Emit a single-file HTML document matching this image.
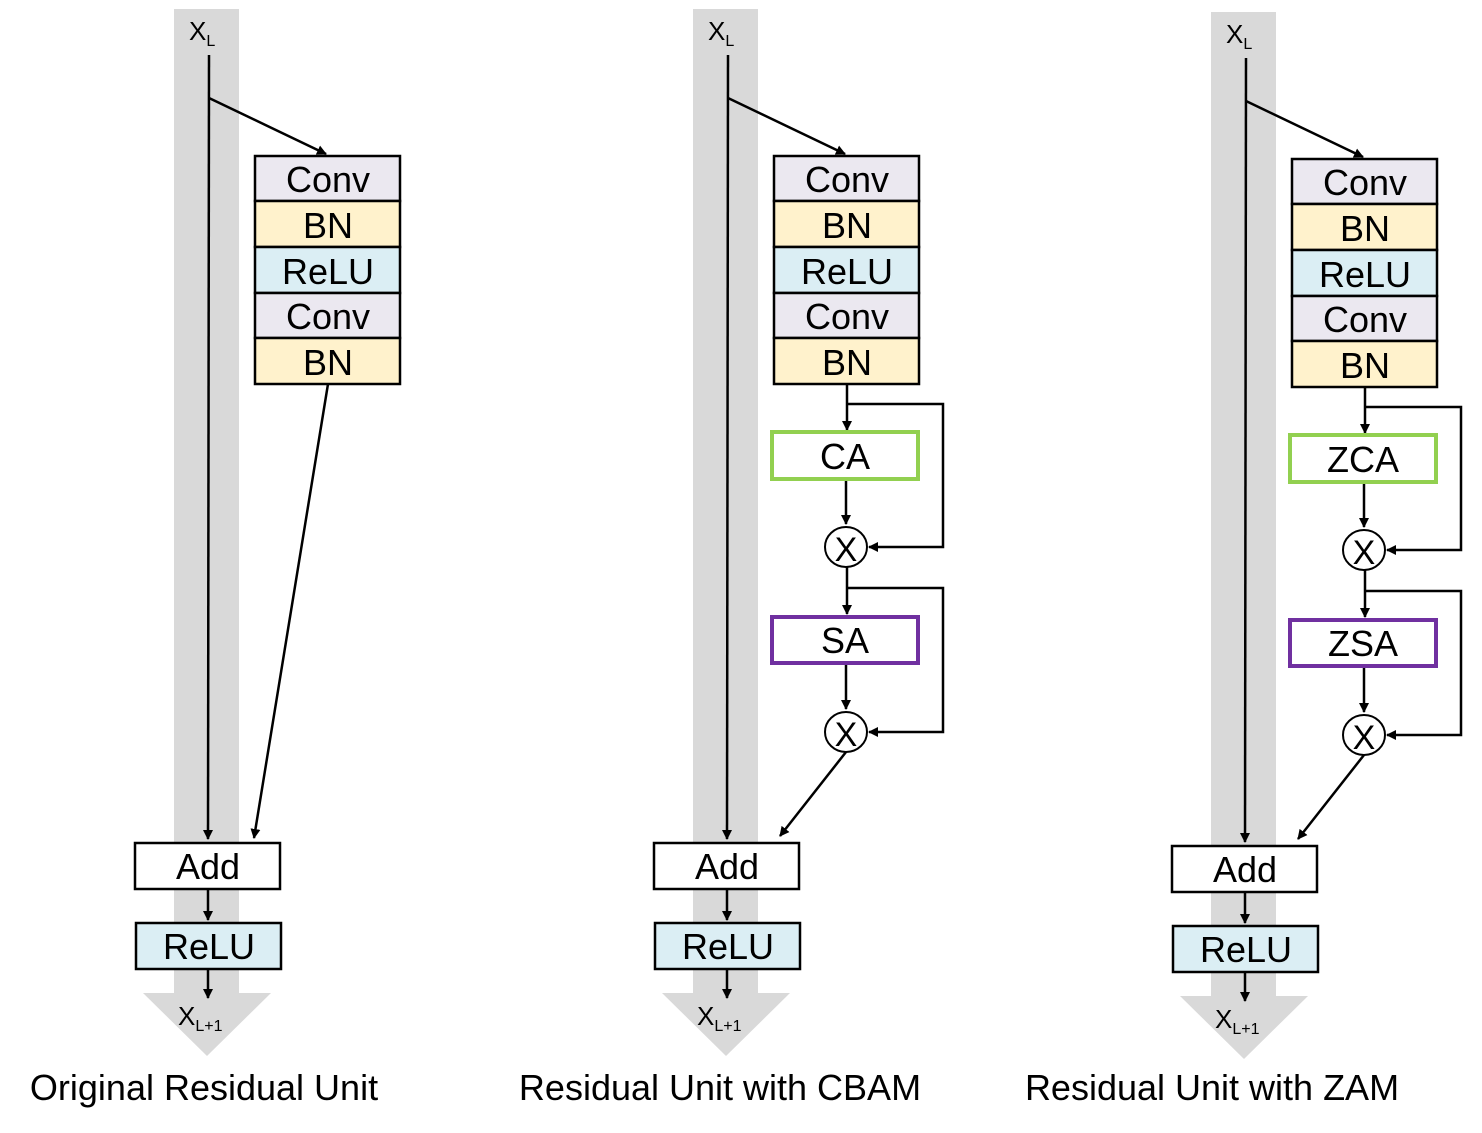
<!DOCTYPE html>
<html><head><meta charset="utf-8"><style>html,body{margin:0;padding:0;background:#fff}svg{display:block}text{font-family:"Liberation Sans",Arial,sans-serif}</style></head><body>
<svg width="1482" height="1133" viewBox="0 0 1482 1133" xmlns="http://www.w3.org/2000/svg">
<defs>
<marker id="a" markerWidth="10" markerHeight="10" refX="9" refY="5" orient="auto" markerUnits="userSpaceOnUse"><path d="M0,0 L10,5 L0,10 z" fill="#000"/></marker>
<g id="base">
<rect x="174" y="9" width="65" height="985" fill="#d9d9d9"/>
<polygon points="143,993 271,993 207,1056" fill="#d9d9d9"/>
<text x="189" y="40" font-size="26">X<tspan font-size="16" dy="6">L</tspan></text>
<text x="178" y="1025" font-size="26">X<tspan font-size="16" dy="6">L+1</tspan></text>
<line x1="209" y1="55" x2="208" y2="839" stroke="#000" stroke-width="2.5" marker-end="url(#a)"/>
<line x1="209" y1="98" x2="326" y2="154" stroke="#000" stroke-width="2.5" marker-end="url(#a)"/>
<g stroke="#000" stroke-width="2.5" font-size="36" text-anchor="middle">
<rect x="255" y="156" width="145" height="45" fill="#ebe8f0"/>
<rect x="255" y="201" width="145" height="46" fill="#fff2cc"/>
<rect x="255" y="247" width="145" height="46" fill="#dbeef4"/>
<rect x="255" y="293" width="145" height="45" fill="#ebe8f0"/>
<rect x="255" y="338" width="145" height="46" fill="#fff2cc"/>
<rect x="135" y="843" width="145" height="46" fill="#fff"/>
<rect x="136" y="923" width="145" height="46" fill="#dbeef4"/>
</g>
<g font-size="36" text-anchor="middle">
<text x="328" y="192">Conv</text><text x="328" y="238">BN</text><text x="328" y="284">ReLU</text><text x="328" y="329">Conv</text><text x="328" y="375">BN</text>
<text x="208" y="879">Add</text><text x="209" y="959">ReLU</text>
</g>
<line x1="208" y1="889" x2="208" y2="920" stroke="#000" stroke-width="2.5" marker-end="url(#a)"/>
<line x1="208" y1="969" x2="208" y2="998" stroke="#000" stroke-width="2.5" marker-end="url(#a)"/>
</g>
<g id="att">
<line x1="328" y1="384" x2="328" y2="430" stroke="#000" stroke-width="2.5" marker-end="url(#a)"/>
<polyline points="328,404 424,404 424,547 350,547" fill="none" stroke="#000" stroke-width="2.5" marker-end="url(#a)"/>
<line x1="327" y1="479" x2="327" y2="524" stroke="#000" stroke-width="2.5" marker-end="url(#a)"/>
<ellipse cx="327" cy="547" rx="21" ry="20" fill="#fff" stroke="#000" stroke-width="2"/>
<text x="327" y="561" font-size="34" text-anchor="middle">X</text>
<line x1="328" y1="567" x2="328" y2="614" stroke="#000" stroke-width="2.5" marker-end="url(#a)"/>
<polyline points="328,588 424,588 424,732 350,732" fill="none" stroke="#000" stroke-width="2.5" marker-end="url(#a)"/>
<line x1="327" y1="663" x2="327" y2="709" stroke="#000" stroke-width="2.5" marker-end="url(#a)"/>
<ellipse cx="327" cy="732" rx="21" ry="20" fill="#fff" stroke="#000" stroke-width="2"/>
<text x="327" y="746" font-size="34" text-anchor="middle">X</text>
<line x1="327" y1="752" x2="261" y2="836" stroke="#000" stroke-width="2.5" marker-end="url(#a)"/>
</g>
</defs>
<use href="#base"/>
<line x1="328" y1="384" x2="254" y2="838" stroke="#000" stroke-width="2.5" marker-end="url(#a)"/>
<g transform="translate(519,0)">
<use href="#base"/><use href="#att"/>
<rect x="253" y="432" width="146" height="47" fill="#fff" stroke="#92d050" stroke-width="4"/>
<rect x="253" y="617" width="146" height="46" fill="#fff" stroke="#7030a0" stroke-width="4"/>
<text x="326" y="469" font-size="36" text-anchor="middle">CA</text>
<text x="326" y="653" font-size="36" text-anchor="middle">SA</text>
</g>
<g transform="translate(1037,3)">
<use href="#base"/><use href="#att"/>
<rect x="253" y="432" width="146" height="47" fill="#fff" stroke="#92d050" stroke-width="4"/>
<rect x="253" y="617" width="146" height="46" fill="#fff" stroke="#7030a0" stroke-width="4"/>
<text x="326" y="469" font-size="36" text-anchor="middle">ZCA</text>
<text x="326" y="653" font-size="36" text-anchor="middle">ZSA</text>
</g>
<g font-size="36" text-anchor="middle">
<text x="204" y="1100">Original Residual Unit</text>
<text x="720" y="1100">Residual Unit with CBAM</text>
<text x="1212" y="1100">Residual Unit with ZAM</text>
</g>
</svg>
</body></html>
